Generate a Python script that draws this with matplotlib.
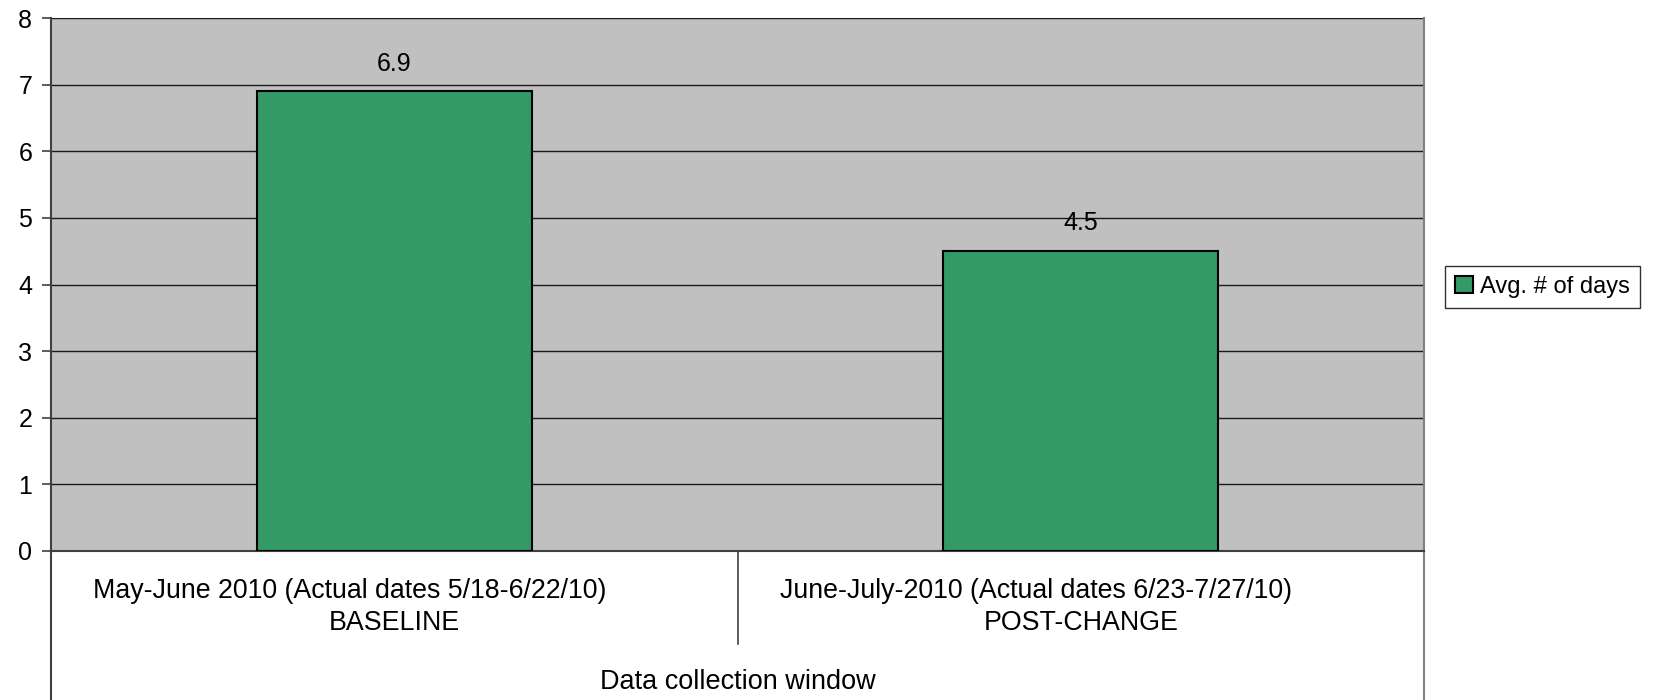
import matplotlib
matplotlib.use("Agg")
import matplotlib.pyplot as plt
from matplotlib.transforms import blended_transform_factory, offset_copy

periods = ["May-June 2010 (Actual dates 5/18-6/22/10)",
           "June-July-2010 (Actual dates 6/23-7/27/10)"]
phases = ["BASELINE", "POST-CHANGE"]
avg_days = [6.9, 4.5]
series_name = "Avg. # of days"
axis_title = "Data collection window"
yticks = [0, 1, 2, 3, 4, 5, 6, 7, 8]

plt.rcParams["font.family"] = ["Liberation Sans", "DejaVu Sans"]

BAR = "#339966"
BG = "#C0C0C0"

# plot area in pixels of the 1670x700 canvas
W, H = 1670, 700
L, R, T, B = 51, 1424, 18, 551
ph = B - T

fig = plt.figure(figsize=(W / 100, H / 100), dpi=100)
ax = fig.add_axes([L / W, 1 - B / H, (R - L) / W, ph / H])
ax.set_facecolor(BG)

x = list(range(len(phases)))
bars = ax.bar(x, avg_days, width=0.4, color=BAR, edgecolor="black", linewidth=1.5,
              label=series_name, zorder=3)
for b, v in zip(bars, avg_days):
    ax.annotate(f"{v}", (b.get_x() + b.get_width() / 2, v), xytext=(0, 20),
                textcoords="offset points", ha="center", va="center", fontsize=18)

ax.set_xlim(-0.5, len(phases) - 0.5)
ax.set_ylim(0, 8)
ax.set_yticks(yticks)
ax.tick_params(axis="y", labelsize=18, length=6.5, width=1.2, color="#404040", pad=7)
ax.set_xticks([])
ax.yaxis.grid(True, color="#1a1a1a", linewidth=1.0, zorder=1)
ax.set_axisbelow(True)

ax.spines["top"].set_visible(False)
for s in ("left", "bottom"):
    ax.spines[s].set_color("#404040")
    ax.spines[s].set_linewidth(1.5)
ax.spines["right"].set_color("#808080")
ax.spines["right"].set_linewidth(1.5)

# category frame below the plot area
tr = blended_transform_factory(ax.transData, ax.transAxes)
lo = -(H - B) / ph
for xv in (-0.5, len(phases) - 0.5):
    ax.plot([xv, xv], [0, lo], transform=tr, color="#404040" if xv < 0 else "#808080",
            linewidth=1.5, clip_on=False)
for i in range(len(phases) - 1):
    ax.plot([i + 0.5, i + 0.5], [0, -(644 - B) / ph], transform=tr,
            color="#404040", linewidth=1.2, clip_on=False)

# first line sits left in its cell, second line is centred (as in the original)
tr_left = offset_copy(tr, fig=fig, x=42, y=0, units="dots")
for i, (p, s) in enumerate(zip(periods, phases)):
    ax.text(i - 0.5, -(591 - B) / ph, p, transform=tr_left, ha="left", va="center",
            fontsize=19.3)
    ax.text(i, -(623 - B) / ph, s, transform=tr, ha="center", va="center",
            fontsize=19.3)
ax.text((len(phases) - 1) / 2, -(682 - B) / ph, axis_title, transform=tr,
        ha="center", va="center", fontsize=19.5)

leg = fig.legend(loc="center left", bbox_to_anchor=(1445 / W, 1 - 287 / H),
                 fontsize=17, frameon=True, fancybox=False, edgecolor="black",
                 handlelength=0.75, handleheight=0.75, handletextpad=0.3,
                 borderpad=0.42, borderaxespad=0)
leg.get_frame().set_linewidth(1.0)

fig.savefig("out.png", dpi=100)
